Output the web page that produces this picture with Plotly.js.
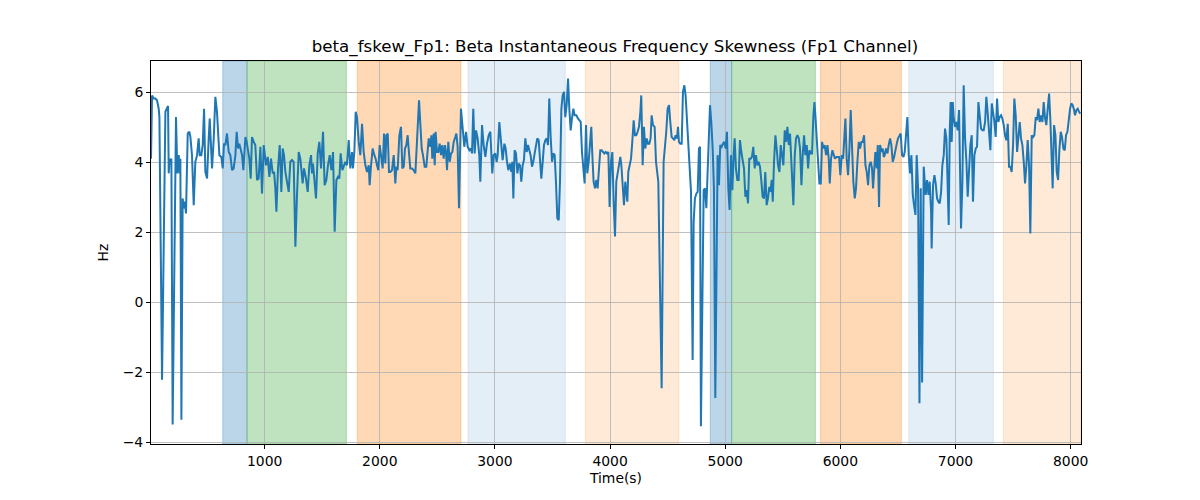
<!DOCTYPE html>
<html>
<head>
<meta charset="utf-8">
<script src="https://cdn.plot.ly/plotly-3.0.1.min.js"></script>
<style>
  body { margin: 0; background: #fff; }
  #myDiv { width: 1200px; height: 500px; }
</style>
</head>
<body>
<div id="myDiv"></div>
<script>
// time (s) of each sample
let timeS = [
  13,22,36,51,65,80,86,109,138,152,161,167,175,181,190,201,230,242,254,262,
  268,277,288,297,306,317,332,346,355,369,384,398,413,421,427,436,450,462,474,485,
  500,514,523,531,543,558,572,586,595,607,624,636,647,659,673,688,702,717,731,746,
  757,769,780,789,804,815,824,833,844,856,867,879,890,905,919,934,948,963,977,992,
  1000,1012,1027,1041,1055,1070,1082,1093,1102,1116,1131,1145,1157,1168,1180,1194,1209,1223,1238,1252,
  1267,1281,1296,1310,1319,1330,1342,
  1359,1374,1388,1403,1411,1420,1432,1446,1461,1475,1490,1507,1521,1536,1550,1565,1579,1594,1608,1623,
  1637,1649,1660,1675,1686,1701,1715,1730,1744,1759,1767,1779,1791,1802,1817,1831,1846,1860,1875,1889,
  1904,1912,1924,1938,1953,1964,1976,1987,1999,2011,2025,2037,2048,2057,2069,2080,2092,2106,2121,2135,
  2144,2155,2170,2184,2196,2208,2219,2231,2242,2254,2265,2280,2294,2309,2318,2329,2341,2352,2364,2375,
  2390,2404,2416,2425,2439,2448,2456,2468,2477,2485,2497,2509,2520,2532,2543,2555,2566,2575,2584,2595,
  2607,2619,2630,2642,2656,2665,2676,2688,
  2705,2720,2734,2749,2763,2778,2792,2801,2812,2824,2836,2850,2864,2873,2888,2902,2917,2931,2946,2960,
  2969,2977,2989,3003,3015,3024,3038,3053,3067,3082,3093,3105,3116,3131,3142,3151,3160,3171,3183,3195,
  3206,3218,3229,3241,3252,3264,3276,3287,3299,3310,3322,3333,3345,3357,3368,3380,3391,3403,3415,3426,
  3438,3449,3461,3472,3484,3496,3507,3519,3530,3542,3554,3565,3577,3588,3600,3611,3623,3635,3646,3658,
  3669,3681,3692,3707,3721,3733,3745,3756,3768,3779,3791,3802,3814,3826,3837,3846,3857,3869,3881,3892,
  3904,3915,3927,3939,3950,3962,3973,3985,3996,4008,4020,4031,4043,
  4054,4066,4080,4089,4098,4109,4121,4132,4141,4150,4158,4170,4182,4193,4205,4216,4228,4239,4251,4263,
  4271,4283,4294,4306,4318,4329,4341,4352,4361,4373,4387,4399,4410,4419,4431,4448,4465,4477,4488,4500,
  4512,4523,4535,4546,4558,4569,4581,4590,4598,4610,4622,4633,4645,4656,4668,4679,4691,4703,4717,4726,
  4737,4749,4761,4772,4781,4789,4813,4824,4836,4847,4859,4868,4879,4891,4902,4914,4934,4946,4957,4969,
  4981,4992,5004,5015,5027,5038,5050,5062,5073,5082,5093,5105,5117,5128,5140,5151,5163,5175,5186,5198,
  5209,5221,5232,5244,5256,5267,5279,5290,5302,5313,5325,5337,5348,5360,5371,5383,
  5392,5404,5413,5424,5436,5447,5459,5471,5482,5494,5505,5517,5529,5540,5552,5563,5575,5586,5592,5604,
  5615,5627,5639,5650,5662,5673,5685,5696,5708,5720,5731,5743,5754,5766,5775,5783,5795,5806,5818,5830,
  5841,5853,5864,5876,5888,5899,5908,5919,5931,5943,5954,5966,5977,5989,6000,6012,6024,6035,6044,6055,
  6067,6079,6090,6102,6113,6125,6136,6148,6160,6171,6183,6194,6206,6218,6229,6241,6252,6264,6275,6284,
  6293,6304,6316,6325,6336,6345,6357,6368,6377,6385,6397,6409,6420,6432,6443,6455,6467,6478,6490,6501,
  6513,6524,6536,6548,6559,6571,6582,6594,6605,6617,6629,6640,6652,6663,6675,6687,6698,6710,6724,
  6741,6753,6765,6776,6788,6793,6805,6817,6828,6840,6851,6863,6875,6886,6898,6909,6921,6932,6941,6950,
  6958,6967,6976,6985,6996,7008,7019,7031,7040,7048,7060,7071,7083,7095,7106,7118,7129,7141,7152,7164,
  7176,7187,7199,7210,7222,7234,7245,7257,7268,7280,7291,7303,7315,7326,7338,7349,7361,7372,7384,7396,
  7407,7419,7430,7442,7454,7465,7477,7488,7500,7511,7523,7535,7546,7558,7569,7581,7593,7604,7616,7627,
  7639,7650,7662,7674,7685,7697,7708,7720,7731,7743,7755,7766,7778,7789,7801,7813,7824,7836,7844,7856,
  7868,7879,7891,7902,7914,7925,7937,7949,7960,7972,7983,7995,8006,8018,8030,8038,8050,8062,8073,8085
];

// beta instantaneous frequency skewness (Hz)
let skewHz = [
  4.11,5.92,5.83,5.83,5.78,5.54,5.30,-2.22,5.45,5.59,5.62,3.69,4.11,4.02,4.11,-3.50,5.30,3.69,4.21,3.69,
  4.11,-3.36,2.97,2.69,2.88,2.54,4.83,4.88,4.73,4.21,2.78,4.02,4.21,4.50,4.69,4.21,4.21,4.50,5.54,3.73,
  3.54,4.69,5.26,4.69,3.83,4.69,5.88,5.45,4.88,4.21,4.16,3.83,4.54,4.50,4.83,4.30,4.21,3.78,3.83,4.21,
  4.88,4.40,4.54,4.40,4.21,3.78,4.40,4.73,4.59,4.30,4.11,3.54,4.73,4.59,4.50,3.50,3.54,4.45,3.11,4.50,
  4.21,3.92,4.16,3.59,4.11,3.69,3.73,3.26,2.59,3.83,4.50,3.16,4.40,4.21,3.73,3.45,3.16,4.02,4.07,4.02,
  1.59,3.07,4.30,4.11,3.64,3.40,3.83,
  3.54,3.16,3.92,4.21,3.69,3.97,3.59,2.97,4.26,4.59,3.83,4.88,3.35,3.50,3.92,4.21,3.78,4.30,2.02,3.50,
  3.59,3.54,4.26,3.78,3.88,4.02,3.92,4.64,3.83,4.30,3.83,4.30,5.45,5.30,4.59,4.21,5.11,4.30,3.92,3.73,
  3.92,3.35,3.92,4.40,4.21,4.11,3.92,3.78,4.50,4.21,3.83,4.83,3.97,4.78,4.83,3.73,3.73,3.78,4.21,3.40,
  3.88,3.78,4.78,5.02,3.83,3.88,4.40,4.50,4.78,4.26,3.83,3.83,3.78,3.69,4.40,5.16,5.78,5.11,4.40,4.21,
  3.88,3.88,4.40,4.69,4.45,4.78,4.11,4.83,3.92,4.88,4.30,4.30,4.54,4.21,4.50,4.11,4.50,4.30,3.78,4.59,
  4.02,4.26,4.30,4.59,4.73,4.83,4.45,2.69,
  5.54,4.88,4.45,4.88,4.45,4.35,4.40,4.26,5.54,4.26,4.92,4.69,4.21,3.45,5.07,4.50,4.16,4.54,4.78,4.88,
  4.30,3.69,4.21,4.26,4.02,4.21,5.16,4.64,4.07,4.54,4.40,4.02,3.78,3.97,3.73,4.02,2.97,4.35,4.26,3.69,
  3.97,3.92,3.45,3.92,4.07,4.69,4.30,4.50,4.35,4.21,3.88,4.02,4.26,4.50,4.69,4.64,4.21,3.54,4.02,4.50,
  4.64,4.69,4.50,5.83,4.73,4.02,4.26,4.21,3.45,2.40,2.35,3.45,5.54,5.92,6.02,5.30,5.64,6.40,5.54,4.92,
  5.26,5.54,5.35,5.35,5.26,5.21,5.16,4.30,3.92,3.40,5.07,3.69,4.02,4.59,5.02,4.21,3.45,3.26,3.50,3.26,
  3.97,4.35,4.35,4.30,4.26,4.30,4.26,4.30,2.73,4.02,4.30,2.88,1.88,
  3.45,3.73,4.02,4.16,3.92,3.26,2.78,3.45,3.07,2.88,3.73,3.92,4.11,4.59,5.21,4.78,4.78,4.88,5.02,5.45,
  5.92,3.92,5.02,4.40,4.69,4.54,4.54,4.69,5.35,5.07,5.02,4.02,3.73,3.45,1.00,-2.46,4.02,4.40,4.88,5.54,
  5.64,5.16,4.73,4.69,4.64,4.78,4.69,5.02,4.59,4.54,4.54,6.02,6.21,5.92,5.16,4.40,3.73,3.16,-1.65,2.30,
  2.97,3.11,3.16,4.40,4.45,-3.55,3.21,3.26,2.69,3.92,4.69,5.64,5.16,4.40,3.26,-2.74,4.21,3.35,4.50,4.45,
  4.54,4.59,4.40,4.88,3.26,2.64,4.21,3.21,4.21,4.69,3.83,3.50,3.50,4.64,4.30,4.02,3.83,3.02,3.21,2.83,
  4.11,4.11,4.16,4.45,3.83,4.21,3.92,4.02,3.88,3.50,3.02,2.97,3.73,2.78,2.97,3.30,
  3.16,3.50,2.88,4.02,4.78,4.40,3.92,3.73,4.50,4.21,3.92,4.92,4.59,5.02,4.50,4.83,4.02,3.26,2.78,4.21,
  4.69,4.78,4.69,4.40,3.35,4.21,4.78,4.21,4.50,3.83,4.35,4.26,4.26,5.35,5.73,5.35,4.69,4.11,3.40,3.40,
  4.59,4.40,4.50,4.21,4.50,4.11,3.40,4.11,4.35,4.21,4.11,4.16,4.16,4.16,3.64,4.21,4.11,4.78,5.26,4.11,
  3.64,4.40,5.50,4.40,3.45,2.97,3.26,4.02,4.59,4.40,4.59,4.59,4.78,3.92,3.73,3.35,3.92,4.02,3.83,3.26,
  3.64,4.30,3.83,4.50,2.73,4.50,4.30,4.40,4.16,4.21,4.40,4.26,4.50,4.69,4.50,4.02,4.16,4.40,4.54,4.69,
  4.78,4.83,4.21,4.16,4.30,4.88,5.30,4.21,3.69,4.21,3.07,2.78,2.50,4.21,3.26,-2.89,3.26,-2.30,3.88,
  3.07,3.50,3.07,3.45,2.59,1.54,3.35,3.64,3.40,2.97,2.88,2.83,3.16,3.92,4.21,4.97,4.69,3.45,2.21,4.88,
  5.73,4.59,5.73,5.26,5.02,5.16,4.92,5.50,3.64,2.11,3.45,6.21,4.69,4.02,3.02,3.92,4.50,4.78,2.88,4.21,
  4.40,4.45,5.73,5.35,4.97,4.92,4.92,5.16,5.88,5.40,4.88,4.35,5.69,5.45,5.16,4.73,5.83,5.16,5.30,5.35,
  5.26,5.07,4.78,4.64,5.11,3.88,3.88,3.73,4.50,5.83,5.35,4.30,4.78,5.16,4.69,4.50,4.02,3.40,3.92,4.64,
  3.92,1.97,4.78,4.73,4.78,5.30,5.21,5.54,5.16,5.35,5.16,5.73,5.26,5.07,5.54,5.97,5.21,4.11,3.26,5.07,
  4.78,3.73,3.50,4.35,4.88,4.73,4.40,4.35,4.78,4.88,5.30,5.54,5.69,5.64,5.50,5.35,5.50,5.54,5.45,5.40
];

// shaded stretches (s)
let spanStart = [636, 847, 1805, 2766, 3785, 4870, 5056, 5827, 6594, 7416];
let spanEnd   = [847, 1710, 2705, 3611, 4598, 5056, 5783, 6530, 7329, 8090];
let spanFill = [
  'rgba(31,119,180,0.3)', 'rgba(44,160,44,0.3)', 'rgba(255,127,14,0.3)',
  'rgba(31,119,180,0.12)', 'rgba(255,127,14,0.16)',
  'rgba(31,119,180,0.3)', 'rgba(44,160,44,0.3)', 'rgba(255,127,14,0.3)',
  'rgba(31,119,180,0.12)', 'rgba(255,127,14,0.16)'
];

let xTicks = [1000, 2000, 3000, 4000, 5000, 6000, 7000, 8000];
let yTicks = [-4, -2, 0, 2, 4, 6];

let shapes = [];
for (let i = 0; i < spanStart.length; i++) {
  shapes.push({
    type: 'rect', xref: 'x', yref: 'paper',
    x0: spanStart[i], x1: spanEnd[i], y0: 0, y1: 1,
    fillcolor: spanFill[i],
    line: { width: 1, color: spanFill[i] },
    layer: 'below'
  });
}

var trace1 = {
  x: timeS,
  y: skewHz,
  mode: 'lines',
  type: 'scatter',
  line: { color: '#1f77b4', width: 2 },
  hoverinfo: 'skip'
};

var axisStyle = {
  showline: true, linecolor: 'black', linewidth: 1, mirror: true,
  ticks: 'outside', ticklen: 4, tickwidth: 1, tickcolor: 'black',
  showgrid: true, gridcolor: '#b0b0b0', gridwidth: 0.8,
  zeroline: false,
  tickfont: { size: 13.9, color: 'black' }
};

var layout = {
  width: 1200, height: 500,
  margin: { l: 151, r: 119, t: 61, b: 56 },
  paper_bgcolor: 'white', plot_bgcolor: 'white',
  font: { family: 'DejaVu Sans', color: 'black' },
  showlegend: false,
  title: {
    text: 'beta_fskew_Fp1: Beta Instantaneous Frequency Skewness (Fp1 Channel)',
    font: { size: 16.67, color: 'black' },
    x: 0.5125, xanchor: 'center', y: 0.908, yanchor: 'middle'
  },
  xaxis: Object.assign({}, axisStyle, {
    range: [13, 8090],
    tickvals: xTicks,
    title: { text: 'Time(s)', font: { size: 13.9, color: 'black' }, standoff: 5 }
  }),
  yaxis: Object.assign({}, axisStyle, {
    range: [-4.057, 6.905],
    tickvals: yTicks,
    title: { text: 'Hz', font: { size: 13.9, color: 'black' }, standoff: 10 }
  }),
  shapes: shapes
};

Plotly.newPlot('myDiv', [trace1], layout, { displayModeBar: false, staticPlot: true });
</script>
</body>
</html>
